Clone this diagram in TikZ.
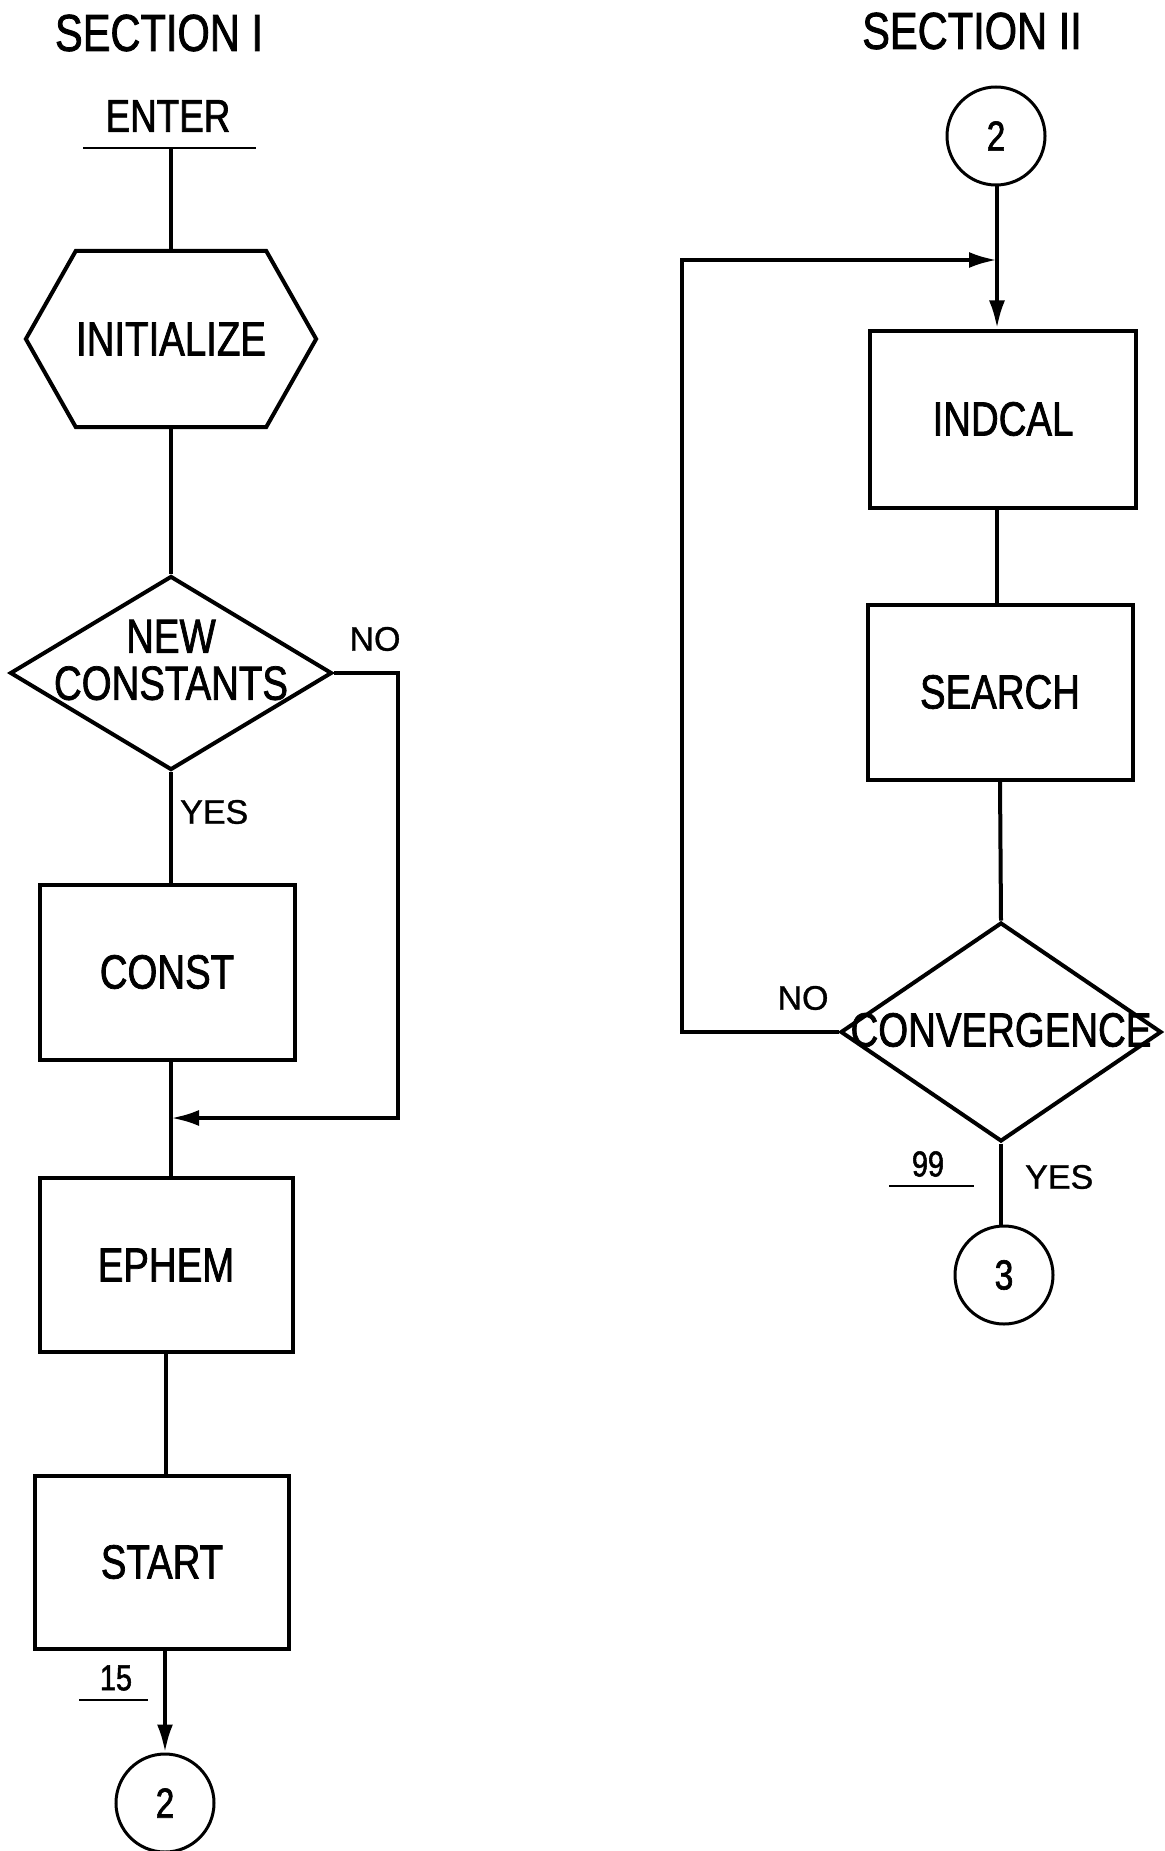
\documentclass[tikz,border=0pt]{standalone}
\usepackage{fontspec}
\setmainfont{Liberation Sans}[FakeStretch=0.8,FakeBold=1.5]
\newfontfamily\tagfont{Liberation Sans}[FakeBold=1]
\usetikzlibrary{shapes.geometric,arrows.meta}
\tikzset{
  block/.style={draw,line width=4pt,minimum width=255pt,minimum height=175pt,inner sep=0pt,font=\fontsize{48}{50}\selectfont},
  decision/.style={draw,diamond,line width=4pt,inner sep=0pt},
  boxtext/.style={font=\fontsize{48}{47}\selectfont,align=center,inner sep=0pt},
  connector/.style={draw,circle,line width=3pt,minimum size=98pt,inner sep=0pt,font=\fontsize{42}{42}\selectfont},
  answer/.style={font=\tagfont\fontsize{34}{34}\selectfont,inner sep=0pt},
  stmtno/.style={font=\fontsize{36}{36}\selectfont,inner sep=0pt},
  flow/.style={line width=4pt},
  arrowflow/.style={line width=4pt,-{Latex[length=28pt,width=16pt]}},
  underline/.style={line width=2.5pt}
}
\begin{document}
\begin{tikzpicture}[x=1pt,y=-1pt]
  \useasboundingbox (0,0) rectangle (1164,1851);
  % section I
  \node[boxtext,font=\fontsize{52}{52}\selectfont] (sec1) at (159,33) {SECTION I};
  \node[boxtext,font=\fontsize{46}{46}\selectfont] (enter) at (168,116) {ENTER};
  \coordinate (entl) at (83,148);
  \coordinate (entr) at (256,148);
  \coordinate (entm) at (171,148);
  \draw[underline] (entl) -- (entr);
  \node[boxtext,minimum width=182pt,minimum height=176pt] (init) at (171,339) {INITIALIZE};
  \draw[flow] (init.north west) -- (init.north east) -- ([xshift=50pt]init.east)
    -- (init.south east) -- (init.south west) -- ([xshift=-50pt]init.west) -- cycle;
  \node[decision,minimum width=322pt,minimum height=194pt] (new) at (171,673) {};
  \node[boxtext] (newtext) at (171,660) {NEW\\CONSTANTS};
  \node[block] (const) at (167,972) {CONST};
  \node[block,minimum width=253pt,minimum height=174pt] (ephem) at (166,1265) {EPHEM};
  \node[block,minimum width=254pt,minimum height=173pt] (start) at (162,1562) {START};
  \node[connector] (c2a) at (165,1803) {2};
  \coordinate (merge) at (171,1118);
  \coordinate (back) at (398,1118);
  \draw[flow] (entm) -- (init.north);
  \draw[flow] (init.south) -- (new.north);
  \draw[flow] (new.south) -- (new.south |- const.north);
  \draw[flow] (new.south |- const.south) -- (new.south |- ephem.north);
  \draw[arrowflow] (new.east) -| (back) -- (merge);
  \draw[flow] (ephem.south) -- (ephem.south |- start.north);
  \draw[arrowflow] (c2a.north |- start.south) -- (c2a.north);
  \node[answer] (no1) at (375,639) {NO};
  \node[answer,anchor=west] (yes1) at (180,812) {YES};
  \node[stmtno] (n15) at (116,1678) {15};
  \coordinate (u15l) at (79,1700);
  \coordinate (u15r) at (148,1700);
  \draw[underline] (u15l) -- (u15r);
  % section II
  \node[boxtext,font=\fontsize{52}{52}\selectfont] (sec2) at (972,31) {SECTION II};
  \node[connector] (c2b) at (996,136) {2};
  \node[block,minimum width=266pt,minimum height=177pt] (indcal) at (1003,419) {INDCAL};
  \node[block,minimum width=265pt,minimum height=175pt] (search) at (1000,692) {SEARCH};
  \node[decision,minimum width=321pt,minimum height=219pt] (conv) at (1001,1032) {};
  \node[boxtext] (convtext) at (1001,1030) {CONVERGENCE};
  \node[connector] (c3) at (1004,1275) {3};
  \coordinate (join) at (997,260);
  \coordinate (loop) at (682,260);
  \draw[arrowflow] (c2b.south -| join) -- (join |- indcal.north);
  \draw[flow] (indcal.south -| join) -- (join |- search.north);
  \draw[flow] (search.south) -- (conv.north);
  \draw[arrowflow] (conv.west) -| (loop) -- (join);
  \draw[flow] (conv.south) -- (conv.south |- c3.north);
  \node[answer] (no2) at (803,998) {NO};
  \node[answer,anchor=west] (yes2) at (1025,1177) {YES};
  \node[stmtno] (n99) at (928,1164) {99};
  \coordinate (u99l) at (889,1186);
  \coordinate (u99r) at (974,1186);
  \draw[underline] (u99l) -- (u99r);
\end{tikzpicture}
\end{document}
